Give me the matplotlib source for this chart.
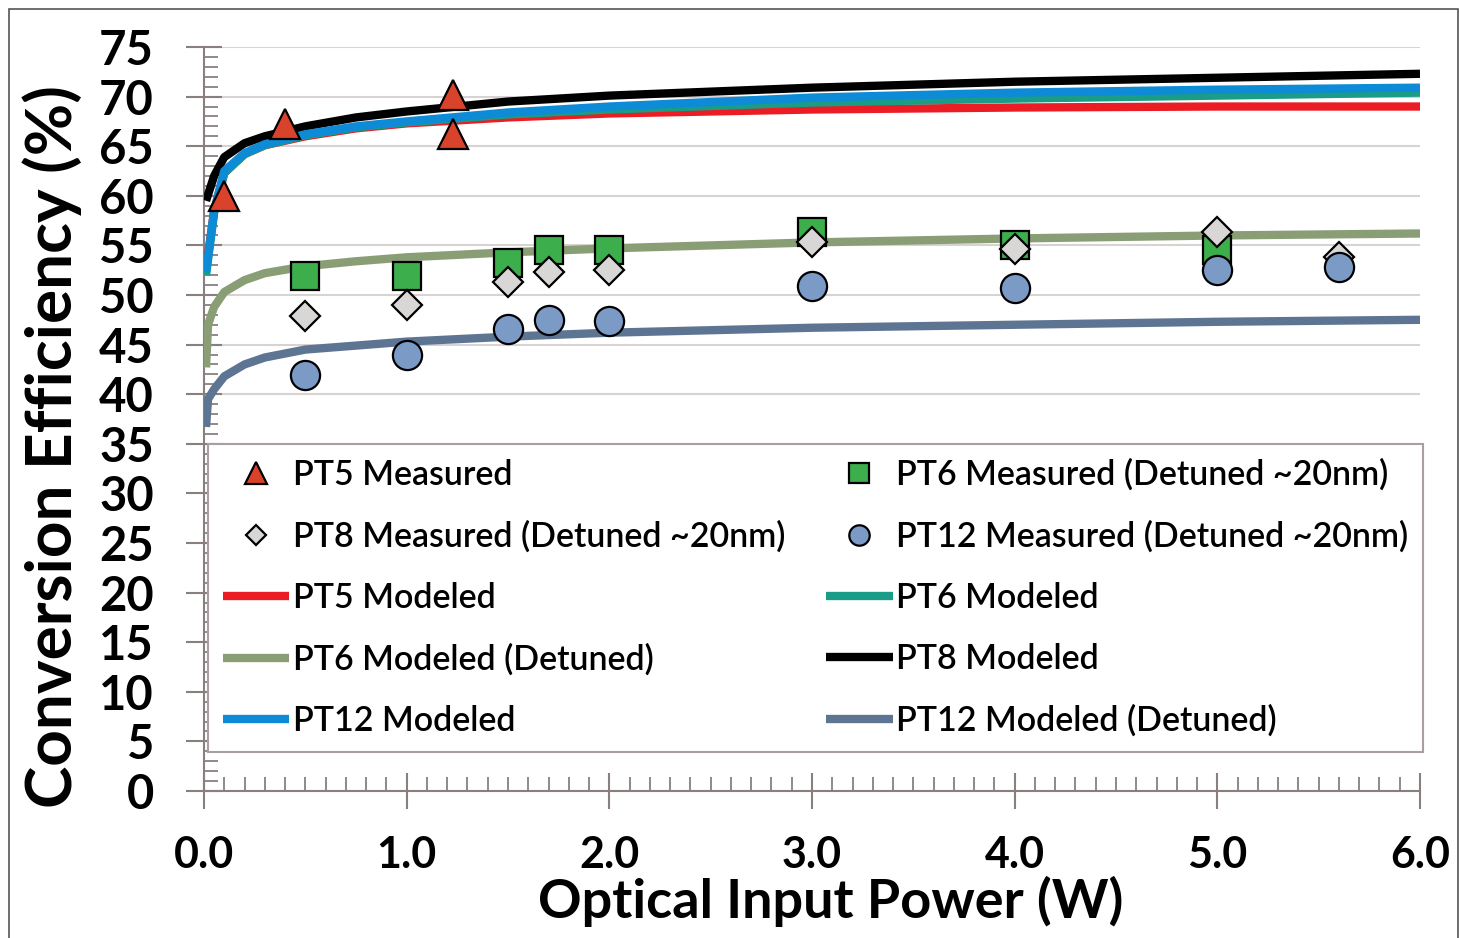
import matplotlib
matplotlib.use("Agg")
import matplotlib.pyplot as plt
from matplotlib.patches import Rectangle
from matplotlib.ticker import MultipleLocator

plt.rcParams['font.family'] = ['Lato', 'DejaVu Sans']

# ---- measured data ----
pt5_x = [0.1, 0.4, 1.23, 1.23]
pt5_y = [60.0, 67.2, 70.2, 66.2]

pt6_x = [0.5, 1.0, 1.5, 1.7, 2.0, 3.0, 4.0, 5.0]
pt6_y = [51.9, 51.9, 53.2, 54.5, 54.5, 56.4, 55.0, 54.5]

pt8_x = [0.5, 1.0, 1.5, 1.7, 2.0, 3.0, 4.0, 5.0, 5.6]
pt8_y = [47.9, 49.0, 51.3, 52.3, 52.5, 55.3, 54.6, 56.4, 53.8]

pt12_x = [0.5, 1.0, 1.5, 1.7, 2.0, 3.0, 4.0, 5.0, 5.6]
pt12_y = [41.9, 44.0, 46.6, 47.5, 47.4, 50.9, 50.7, 52.5, 52.8]

# ---- modeled curves ----
mod_x = [0.01, 0.05, 0.1, 0.2, 0.3, 0.5, 0.75, 1.0, 1.5, 2.0, 3.0, 4.0, 5.0, 6.0]
pt5_mod = [52.5, 58.5, 62.3, 64.2, 65.1, 66.0, 66.8, 67.3, 67.9, 68.3, 68.7, 68.9, 69.0, 69.0]
pt6_mod = [52.0, 58.3, 62.3, 64.2, 65.1, 66.1, 66.9, 67.4, 68.2, 68.7, 69.4, 69.8, 70.1, 70.4]
pt8_mod = [59.5, 62.0, 63.9, 65.3, 66.0, 67.0, 67.9, 68.5, 69.5, 70.1, 70.9, 71.5, 71.9, 72.3]
pt12_mod = [52.3, 58.5, 62.5, 64.3, 65.2, 66.2, 67.0, 67.5, 68.4, 69.0, 69.9, 70.4, 70.7, 70.9]

det_x = [0.01, 0.02, 0.05, 0.1, 0.2, 0.3, 0.5, 0.75, 1.0, 1.5, 2.0, 3.0, 4.0, 5.0, 6.0]
pt6_det = [42.7, 47.0, 48.8, 50.3, 51.5, 52.2, 52.9, 53.4, 53.8, 54.3, 54.7, 55.3, 55.7, 56.0, 56.2]
pt12_det = [36.7, 39.5, 40.5, 41.8, 43.0, 43.7, 44.5, 44.9, 45.3, 45.8, 46.2, 46.7, 47.0, 47.3, 47.5]

x_ticks = [0, 1, 2, 3, 4, 5, 6]
x_ticklabels = ['0.0', '1.0', '2.0', '3.0', '4.0', '5.0', '6.0']
y_ticks = list(range(0, 80, 5))

W, H = 1459, 938
fig = plt.figure(figsize=(W / 100, H / 100), dpi=100)
ax = fig.add_axes([204 / W, 1 - 791 / H, (1420 - 204) / W, (791 - 47) / H])

# outer frame
fig.patches.append(Rectangle((9 / W, -0.01), (1458 - 9) / W, 1.01 - 9 / H,
                             transform=fig.transFigure, fill=False,
                             edgecolor='#555555', linewidth=1.2))

C_RED = '#ec1c24'
C_TEAL = '#1a9c86'
C_BLUE = '#0d8bd6'
C_SAGE = '#8a9e76'
C_SLATE = '#5d7592'
LW = 6.0

l_red, = ax.plot(mod_x, pt5_mod, color=C_RED, lw=LW, solid_capstyle='butt', zorder=3)
l_teal, = ax.plot(mod_x, pt6_mod, color=C_TEAL, lw=LW, solid_capstyle='butt', zorder=3.1)
l_black, = ax.plot(mod_x, pt8_mod, color='black', lw=LW, solid_capstyle='butt', zorder=3.2)
l_blue, = ax.plot(mod_x, pt12_mod, color=C_BLUE, lw=LW, solid_capstyle='butt', zorder=3.3)
l_sage, = ax.plot(det_x, pt6_det, color=C_SAGE, lw=LW, solid_capstyle='butt', zorder=3)
l_slate, = ax.plot(det_x, pt12_det, color=C_SLATE, lw=LW, solid_capstyle='butt', zorder=3)

mk = dict(linestyle='none', markeredgecolor='black', markeredgewidth=1.6, zorder=5)
m5, = ax.plot(pt5_x, pt5_y, marker='^', markersize=22, markerfacecolor='#d9432c', **mk)
m6, = ax.plot(pt6_x, pt6_y, marker='s', markersize=20, markerfacecolor='#3cae4c', **mk)
m8, = ax.plot(pt8_x, pt8_y, marker='D', markersize=15, markerfacecolor='#d9d7d6', **mk)
m12, = ax.plot(pt12_x, pt12_y, marker='o', markersize=21, markerfacecolor='#7b9ac6', **mk)

ax.set_xlim(0, 6)
ax.set_ylim(0, 75)
ax.set_xticks(x_ticks)
ax.set_xticklabels(x_ticklabels)
ax.set_yticks(y_ticks)
ax.xaxis.set_minor_locator(MultipleLocator(0.1))
ax.yaxis.set_minor_locator(MultipleLocator(1))

tick_c = '#8a7f7f'
ax.tick_params(axis='both', which='major', direction='inout', length=26, width=1.5,
               color=tick_c)
ax.tick_params(axis='y', which='major', labelsize=34, pad=23)
ax.tick_params(axis='x', which='major', labelsize=31, pad=19)
ax.tick_params(axis='both', which='minor', direction='in', length=10, width=1.3, color=tick_c)
for lab in ax.get_xticklabels() + ax.get_yticklabels():
    lab.set_fontweight('bold')

for s in ['top', 'right']:
    ax.spines[s].set_visible(False)
for s in ['left', 'bottom']:
    ax.spines[s].set_color(tick_c)
    ax.spines[s].set_linewidth(1.5)

ax.yaxis.grid(True, color='#d8d2d2', linewidth=1.5, zorder=0)
ax.set_axisbelow(True)

ax.set_xlabel('Optical Input Power (W)', fontsize=39, fontweight='bold', va='baseline')
ax.xaxis.set_label_coords((831 - 204) / 1216, (791 - 918) / 744)
ax.set_ylabel('Conversion Efficiency (%)', fontsize=46, fontweight='bold', va='center')
ax.yaxis.set_label_coords((52 - 204) / 1216, (791 - 447) / 744)

handles = [m5, m8, l_red, l_sage, l_blue, m6, m12, l_teal, l_black, l_slate]
labels = ['PT5 Measured', 'PT8 Measured (Detuned ~20nm)', 'PT5 Modeled',
          'PT6 Modeled (Detuned)', 'PT12 Modeled',
          'PT6 Measured (Detuned ~20nm)', 'PT12 Measured (Detuned ~20nm)',
          'PT6 Modeled', 'PT8 Modeled', 'PT12 Modeled (Detuned)']
x0 = (208 - 204) / 1216
x1 = (1423 - 204) / 1216
y0 = (791 - 752) / 744
y1 = (791 - 444) / 744
leg = ax.legend(handles, labels, ncol=2, loc='lower left', mode='expand',
                bbox_to_anchor=(x0, y0, x1 - x0, y1 - y0),
                prop={'weight': 'semibold', 'size': 24.5},
                frameon=True, fancybox=False, edgecolor='#a8a0a0',
                framealpha=1, markerscale=0.7, handlelength=1.95,
                handletextpad=0.1, labelspacing=0.86, borderpad=0.44,
                borderaxespad=0)
leg.get_frame().set_linewidth(1.5)
leg.set_zorder(6)

fig.savefig('out.png', dpi=100)
